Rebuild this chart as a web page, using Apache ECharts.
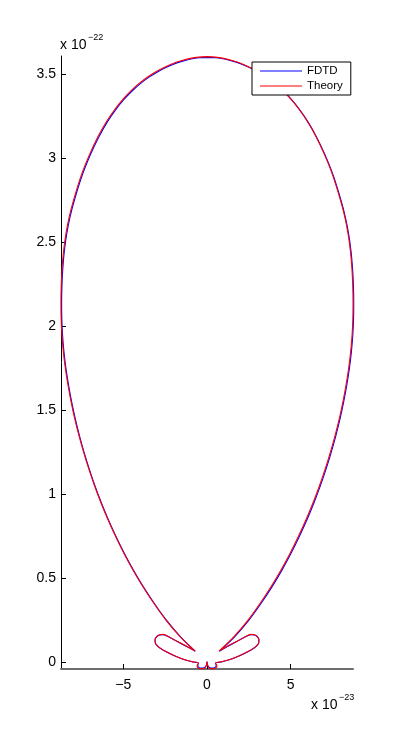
<!DOCTYPE html>
<html>
<head>
<meta charset="utf-8">
<script src="https://cdn.jsdelivr.net/npm/echarts@6/dist/echarts.min.js"></script>
<style>
html,body{margin:0;padding:0;background:#fff;}
#chart{width:400px;height:752px;}
</style>
</head>
<body>
<div id="chart"></div>
<script>
// x values in units of 1e-23, y values in units of 1e-22
// Path: top -> left main lobe -> left side lobe -> left small loop -> origin
//       -> right small loop -> right side lobe -> right main lobe -> top
const theoryX = [
  0, -0.5, -1, -1.5, -2, -2.5, -3, -3.5, -4, -4.5,
  -5, -5.5, -6, -6.5, -7, -7.5, -7.97, -8.229, -8.424, -8.561,
  -8.650, -8.702, -8.723, -8.713, -8.668, -8.584, -8.463, -8.306, -8.12, -7.905,
  -7.655, -7.375, -7.065, -6.723, -6.345, -5.93, -5.475, -4.98, -4.437, -3.84,
  -3.185, -2.465, -1.61, -0.72,
  -1.193, -1.670, -2.027, -2.385, -2.624, -2.832, -3.011, -3.101, -3.089, -2.982,
  -2.773, -2.385, -1.908, -1.372, -0.894, -0.507,
  -0.596, -0.537, -0.358, -0.149, -0.042, 0,
  0.042, 0.149, 0.358, 0.537, 0.596, 0.507,
  0.894, 1.372, 1.908, 2.385, 2.773, 2.982, 3.089, 3.101, 3.011, 2.832,
  2.624, 2.385, 2.027, 1.670, 1.193, 0.72,
  1.61, 2.465, 3.185, 3.84, 4.437, 4.98, 5.475, 5.93, 6.345, 6.723,
  7.065, 7.375, 7.655, 7.905, 8.12, 8.306, 8.463, 8.584, 8.668, 8.713,
  8.723, 8.702, 8.650, 8.561, 8.424, 8.229, 7.97, 7.5, 7.0, 6.5,
  6.0, 5.5, 5.0, 4.5, 4.0, 3.5, 3.0, 2.5, 2.0, 1.5,
  1.0, 0.5, 0
];
const theoryY = [
  3.604, 3.6015, 3.594, 3.5815, 3.5645, 3.543, 3.517, 3.486, 3.449, 3.405,
  3.353, 3.291, 3.218, 3.130, 3.025, 2.900, 2.75, 2.65, 2.55, 2.45,
  2.35, 2.25, 2.15, 2.05, 1.95, 1.85, 1.75, 1.65, 1.55, 1.45,
  1.35, 1.25, 1.15, 1.05, 0.95, 0.85, 0.75, 0.65, 0.55, 0.45,
  0.35, 0.25, 0.15, 0.064,
  0.091, 0.116, 0.135, 0.154, 0.163, 0.161, 0.150, 0.132, 0.114, 0.097,
  0.080, 0.058, 0.035, 0.014, 0.001, -0.008,
  -0.023, -0.036, -0.042, -0.038, -0.023, 0,
  -0.023, -0.038, -0.042, -0.036, -0.023, -0.008,
  0.001, 0.014, 0.035, 0.058, 0.080, 0.097, 0.114, 0.132, 0.150, 0.161,
  0.163, 0.154, 0.135, 0.116, 0.091, 0.064,
  0.15, 0.25, 0.35, 0.45, 0.55, 0.65, 0.75, 0.85, 0.95, 1.05,
  1.15, 1.25, 1.35, 1.45, 1.55, 1.65, 1.75, 1.85, 1.95, 2.05,
  2.15, 2.25, 2.35, 2.45, 2.55, 2.65, 2.75, 2.900, 3.025, 3.130,
  3.218, 3.291, 3.353, 3.405, 3.449, 3.486, 3.517, 3.543, 3.5645, 3.5815,
  3.594, 3.6015, 3.604
];
const fdtdX = [
  0.04, -0.46, -0.96, -1.46, -1.96, -2.46, -2.96, -3.46, -3.96, -4.46,
  -4.96, -5.46, -5.96, -6.46, -6.96, -7.46, -7.93, -8.189, -8.384, -8.521,
  -8.610, -8.662, -8.683, -8.673, -8.628, -8.544, -8.423, -8.266, -8.08, -7.865,
  -7.615, -7.335, -7.025, -6.683, -6.305, -5.89, -5.435, -4.94, -4.397, -3.80,
  -3.145, -2.425, -1.58, -0.70,
  -1.193, -1.670, -2.027, -2.385, -2.624, -2.832, -3.011, -3.101, -3.089, -2.982,
  -2.773, -2.385, -1.908, -1.372, -0.894, -0.507,
  -0.55, -0.49, -0.33, -0.14, -0.04, 0,
  0.04, 0.14, 0.33, 0.49, 0.55, 0.507,
  0.894, 1.372, 1.908, 2.385, 2.773, 2.982, 3.089, 3.101, 3.011, 2.832,
  2.624, 2.385, 2.027, 1.670, 1.193, 0.74,
  1.65, 2.505, 3.225, 3.88, 4.477, 5.02, 5.515, 5.97, 6.385, 6.763,
  7.105, 7.415, 7.695, 7.945, 8.16, 8.346, 8.503, 8.624, 8.708, 8.753,
  8.763, 8.742, 8.690, 8.601, 8.464, 8.269, 8.01, 7.54, 7.04, 6.54,
  6.04, 5.54, 5.04, 4.54, 4.04, 3.54, 3.04, 2.54, 2.04, 1.54,
  1.04, 0.54, 0.04
];
const fdtdY = [
  3.600, 3.5975, 3.590, 3.5775, 3.5605, 3.539, 3.513, 3.482, 3.445, 3.401,
  3.349, 3.287, 3.214, 3.126, 3.021, 2.896, 2.746, 2.646, 2.546, 2.446,
  2.346, 2.246, 2.146, 2.046, 1.946, 1.846, 1.746, 1.646, 1.546, 1.446,
  1.346, 1.246, 1.146, 1.046, 0.946, 0.846, 0.746, 0.646, 0.546, 0.446,
  0.347, 0.248, 0.149, 0.063,
  0.090, 0.115, 0.134, 0.153, 0.162, 0.160, 0.149, 0.131, 0.113, 0.096,
  0.079, 0.057, 0.034, 0.013, 0.000, -0.008,
  -0.021, -0.033, -0.038, -0.034, -0.021, 0,
  -0.021, -0.034, -0.038, -0.033, -0.021, -0.008,
  0.000, 0.013, 0.034, 0.057, 0.079, 0.096, 0.113, 0.131, 0.149, 0.160,
  0.162, 0.153, 0.134, 0.115, 0.090, 0.063,
  0.149, 0.248, 0.347, 0.446, 0.546, 0.646, 0.746, 0.846, 0.946, 1.046,
  1.146, 1.246, 1.346, 1.446, 1.546, 1.646, 1.746, 1.846, 1.946, 2.046,
  2.146, 2.246, 2.346, 2.446, 2.546, 2.646, 2.746, 2.896, 3.021, 3.126,
  3.214, 3.287, 3.349, 3.401, 3.445, 3.482, 3.513, 3.539, 3.5605, 3.5775,
  3.590, 3.5975, 3.600
];
const xTicks = [-5, 0, 5];
const yTicks = [0, 0.5, 1, 1.5, 2, 2.5, 3, 3.5];
const seriesNames = ['FDTD', 'Theory'];
const xExponent = '\u221223';
const yExponent = '\u221222';

const FONT = '"Liberation Sans", Arial, Helvetica, sans-serif';
function pairs(xs, ys) { return xs.map((x, i) => [x, ys[i]]); }
function fmt(v) { return v < 0 ? '\u2212' + Math.abs(v) : String(v); }

const chart = echarts.init(document.getElementById('chart'), null, {renderer: 'canvas'});
chart.setOption({
  animation: false,
  backgroundColor: '#ffffff',
  grid: {left: 61, right: 47, top: 56, bottom: 83, containLabel: false},
  legend: {
    data: seriesNames,
    orient: 'vertical',
    left: 252, top: 62,
    padding: [2, 8, 2, 8],
    itemGap: 1,
    itemWidth: 42,
    itemHeight: 1,
    icon: 'rect',
    backgroundColor: '#ffffff',
    borderColor: '#000000',
    borderWidth: 1,
    borderRadius: 0,
    textStyle: {fontFamily: FONT, fontSize: 11.5, color: '#000', lineHeight: 14}
  },
  xAxis: {
    type: 'value',
    min: -8.72, max: 8.72,
    splitLine: {show: false},
    axisLine: {onZero: false, lineStyle: {color: '#6e6e6e', width: 2}},
    axisTick: {inside: true, length: 5, customValues: xTicks, lineStyle: {color: '#000'}},
    axisLabel: {customValues: xTicks, formatter: fmt, fontFamily: FONT, fontSize: 14, color: '#000', margin: 9}
  },
  yAxis: {
    type: 'value',
    min: -0.043, max: 3.608,
    splitLine: {show: false},
    axisLine: {onZero: false, lineStyle: {color: '#000', width: 1}},
    axisTick: {inside: true, length: 5, customValues: yTicks, lineStyle: {color: '#000'}},
    axisLabel: {customValues: yTicks, formatter: fmt, fontFamily: FONT, fontSize: 14, color: '#000', margin: 5}
  },
  graphic: [
    {type: 'text', left: 60, top: 38, style: {text: 'x 10', font: '14px ' + FONT, fill: '#000'}},
    {type: 'text', left: 88, top: 33, style: {text: yExponent, font: '9px ' + FONT, fill: '#000'}},
    {type: 'text', left: 311, top: 698, style: {text: 'x 10', font: '14px ' + FONT, fill: '#000'}},
    {type: 'text', left: 339, top: 693, style: {text: xExponent, font: '9px ' + FONT, fill: '#000'}}
  ],
  series: [
    {
      name: seriesNames[0], type: 'line', data: pairs(fdtdX, fdtdY),
      symbol: 'none', smooth: 0.3, clip: false,
      lineStyle: {color: '#0000ff', width: 1.1}, itemStyle: {color: '#0000ff'}
    },
    {
      name: seriesNames[1], type: 'line', data: pairs(theoryX, theoryY),
      symbol: 'none', smooth: 0.3, clip: false,
      lineStyle: {color: '#ff0000', width: 1.1}, itemStyle: {color: '#ff0000'}
    }
  ]
});
</script>
</body>
</html>
